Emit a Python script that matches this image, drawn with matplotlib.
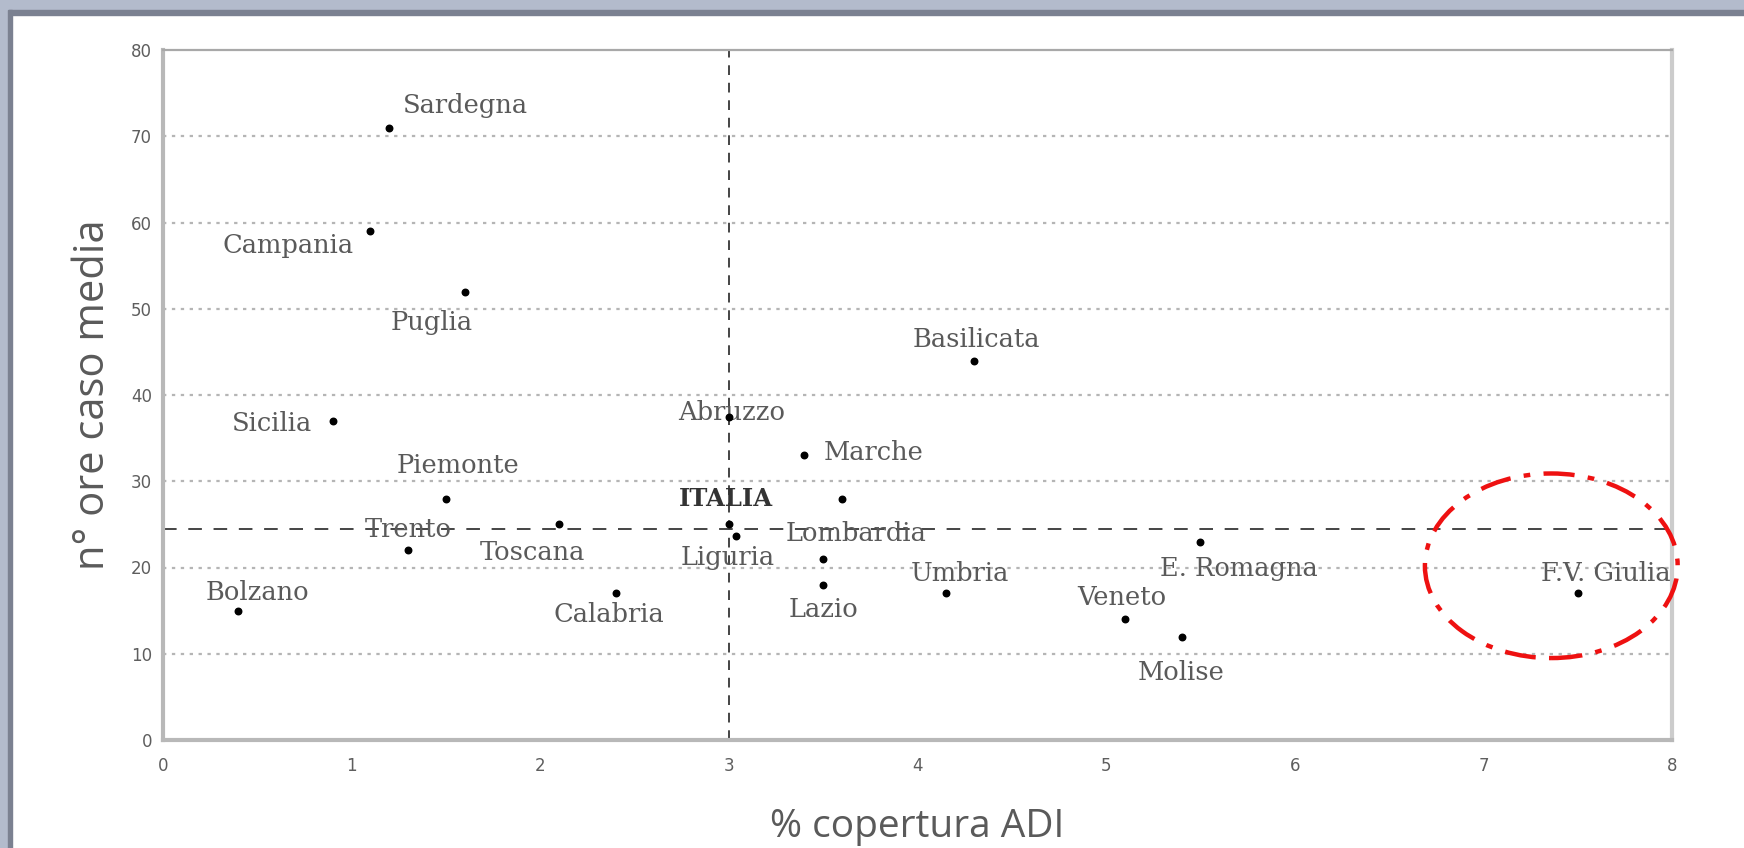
import numpy as np
import matplotlib.pyplot as plt
from matplotlib.patches import Ellipse, Rectangle

# dati: % copertura ADI e n° ore per caso (media)
regioni = ['Sardegna', 'Campania', 'Puglia', 'Basilicata', 'Sicilia', 'Abruzzo',
           'Marche', '', 'Piemonte', 'ITALIA', 'Trento', 'Toscana', 'Lombardia',
           'Liguria', 'Lazio', 'Umbria', 'E. Romagna', 'Veneto', 'Molise',
           'F.V. Giulia', 'Bolzano', 'Calabria']
copertura = [1.2, 1.1, 1.6, 4.3, 0.9, 3.0, 3.4, 3.6, 1.5, 3.0, 1.3, 2.1, 3.5,
             3.04, 3.5, 4.15, 5.5, 5.1, 5.4, 7.5, 0.4, 2.4]
ore = [71, 59, 52, 44, 37, 37.5, 33, 28, 28, 25, 22, 25, 21,
       23.7, 18, 17, 23, 14, 12, 17, 15, 17]
media_x = 3.0
media_y = 24.5

# posizione delle etichette (punti, rispetto al punto)
offset = {'Sardegna': (55, 16), 'Campania': (-59, -10), 'Puglia': (-24, -22),
          'Basilicata': (2, 15), 'Sicilia': (-44, -2), 'Abruzzo': (2, 3),
          'Marche': (50, 2), 'Piemonte': (9, 24), 'ITALIA': (-2, 18),
          'Trento': (0, 15), 'Toscana': (-19, -20), 'Lombardia': (24, 18),
          'Liguria': (-6, -16), 'Lazio': (0, -18), 'Umbria': (10, 14),
          'E. Romagna': (28, -19), 'Veneto': (-2, 16), 'Molise': (0, -26),
          'F.V. Giulia': (20, 14), 'Bolzano': (14, 13), 'Calabria': (-5, -15)}

fig = plt.figure(figsize=(17.44, 8.48), dpi=100)

# cornice della finestra
fig.patches.append(Rectangle((0, 1 - 10 / 848), 1, 10 / 848, transform=fig.transFigure,
                             color='#b3bbcc', zorder=0))
fig.patches.append(Rectangle((0, 1 - 15 / 848), 1, 5 / 848, transform=fig.transFigure,
                             color='#7b8191', zorder=0))
fig.patches.append(Rectangle((0, 0), 8 / 1744, 1, transform=fig.transFigure,
                             color='#b3bbcc', zorder=0))
fig.patches.append(Rectangle((8 / 1744, 0), 4 / 1744, 1 - 10 / 848, transform=fig.transFigure,
                             color='#7b8191', zorder=0))

ax = fig.add_axes([163 / 1744, 1 - 740 / 848, (1672 - 163) / 1744, (740 - 50) / 848])

ax.set_xlim(0, 8)
ax.set_ylim(0, 80)
ax.set_xticks(range(0, 9))
ax.set_yticks(range(0, 81, 10))
ax.tick_params(labelsize=12, labelcolor='#5e5e5e', length=0)
ax.tick_params(axis='x', pad=12)
ax.tick_params(axis='y', pad=8)

for y in range(10, 80, 10):
    ax.axhline(y, color='#b5b5b5', ls=(0, (1.5, 2.5)), lw=1.6, zorder=1)

ax.axhline(media_y, color='#444444', ls=(0, (7, 6)), lw=1.4, zorder=2)
ax.axvline(media_x, color='#444444', ls=(0, (5, 4)), lw=1.4, zorder=2)

ax.scatter(copertura, ore, s=22, color='black', zorder=4)

for nome, x, y in zip(regioni, copertura, ore):
    if not nome:
        continue
    italia = nome == 'ITALIA'
    ax.annotate(nome, (x, y), xytext=offset[nome], textcoords='offset points',
                ha='center', va='center', fontsize=17.5 if italia else 18.5,
                family='DejaVu Serif', color='#333333' if italia else '#5a5a5a',
                fontweight='bold' if italia else 'normal', zorder=3)

ax.add_patch(Ellipse((7.36, 20.2), 1.34, 21.4, fill=False, ec='#ee1111', lw=3.2,
                     ls=(0, (7, 3, 1.5, 3)), clip_on=False, zorder=5))

for lato in ['left', 'bottom']:
    ax.spines[lato].set_color('#b8b8b8')
    ax.spines[lato].set_linewidth(3)
ax.spines['top'].set_color('#a8a8a8')
ax.spines['top'].set_linewidth(1.6)
ax.spines['right'].set_color('#cccccc')
ax.spines['right'].set_linewidth(3)

ax.set_ylabel('n° ore caso media', fontsize=30, color='#5a5a5a', family='Open Sans', labelpad=12)
ax.set_xlabel('% copertura ADI', fontsize=28, color='#5a5a5a', family='Open Sans', labelpad=24)

fig.savefig('out.png', dpi=100)
